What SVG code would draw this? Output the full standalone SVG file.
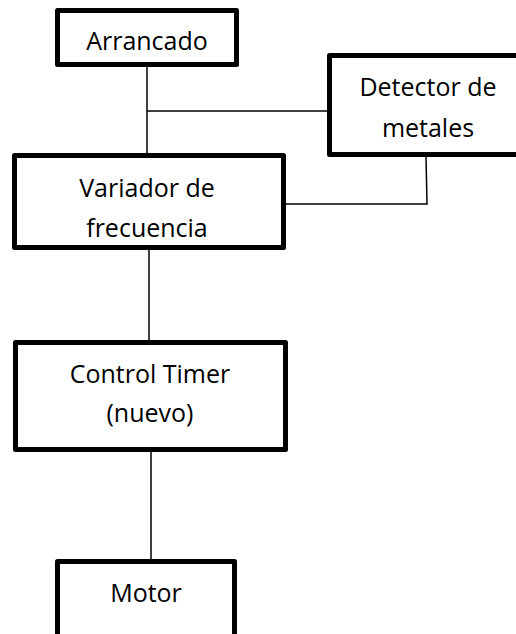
<svg xmlns="http://www.w3.org/2000/svg" width="516" height="634" viewBox="0 0 516 634">
<style>
.box{fill:#fff;stroke:#000;stroke-width:5;stroke-linejoin:round}
.lbl{font-family:"Open Sans","Noto Sans","Liberation Sans",sans-serif;font-size:25px;fill:#000;text-anchor:middle}
.conn{fill:none;stroke:#000;stroke-width:1.5}
</style>
<rect width="516" height="634" fill="#fff"/>
<g id="connectors">
<line class="conn" x1="147" y1="66" x2="147" y2="154"/>
<line class="conn" x1="147" y1="111" x2="328" y2="111"/>
<polyline class="conn" points="426,156 427,204 285,204"/>
<line class="conn" x1="149" y1="249" x2="149" y2="341"/>
<line class="conn" x1="151" y1="451" x2="151" y2="560"/>
</g>
<g id="arrancado">
<rect class="box" x="57.5" y="10.5" width="179" height="54"/>
<text class="lbl" x="147" y="50">Arrancado</text>
</g>
<g id="detector">
<rect class="box" x="329.5" y="55.5" width="200" height="99"/>
<text class="lbl" x="428" y="96">Detector de</text>
<text class="lbl" x="428" y="137">metales</text>
</g>
<g id="variador">
<rect class="box" x="14.5" y="155.5" width="269" height="92"/>
<text class="lbl" x="147" y="197">Variador de</text>
<text class="lbl" x="147" y="237">frecuencia</text>
</g>
<g id="control">
<rect class="box" x="15.5" y="342.5" width="270" height="107"/>
<text class="lbl" x="150" y="383">Control Timer</text>
<text class="lbl" x="150" y="422">(nuevo)</text>
</g>
<g id="motor">
<rect class="box" x="57.5" y="561.5" width="177" height="100"/>
<text class="lbl" x="146" y="602">Motor</text>
</g>
</svg>
